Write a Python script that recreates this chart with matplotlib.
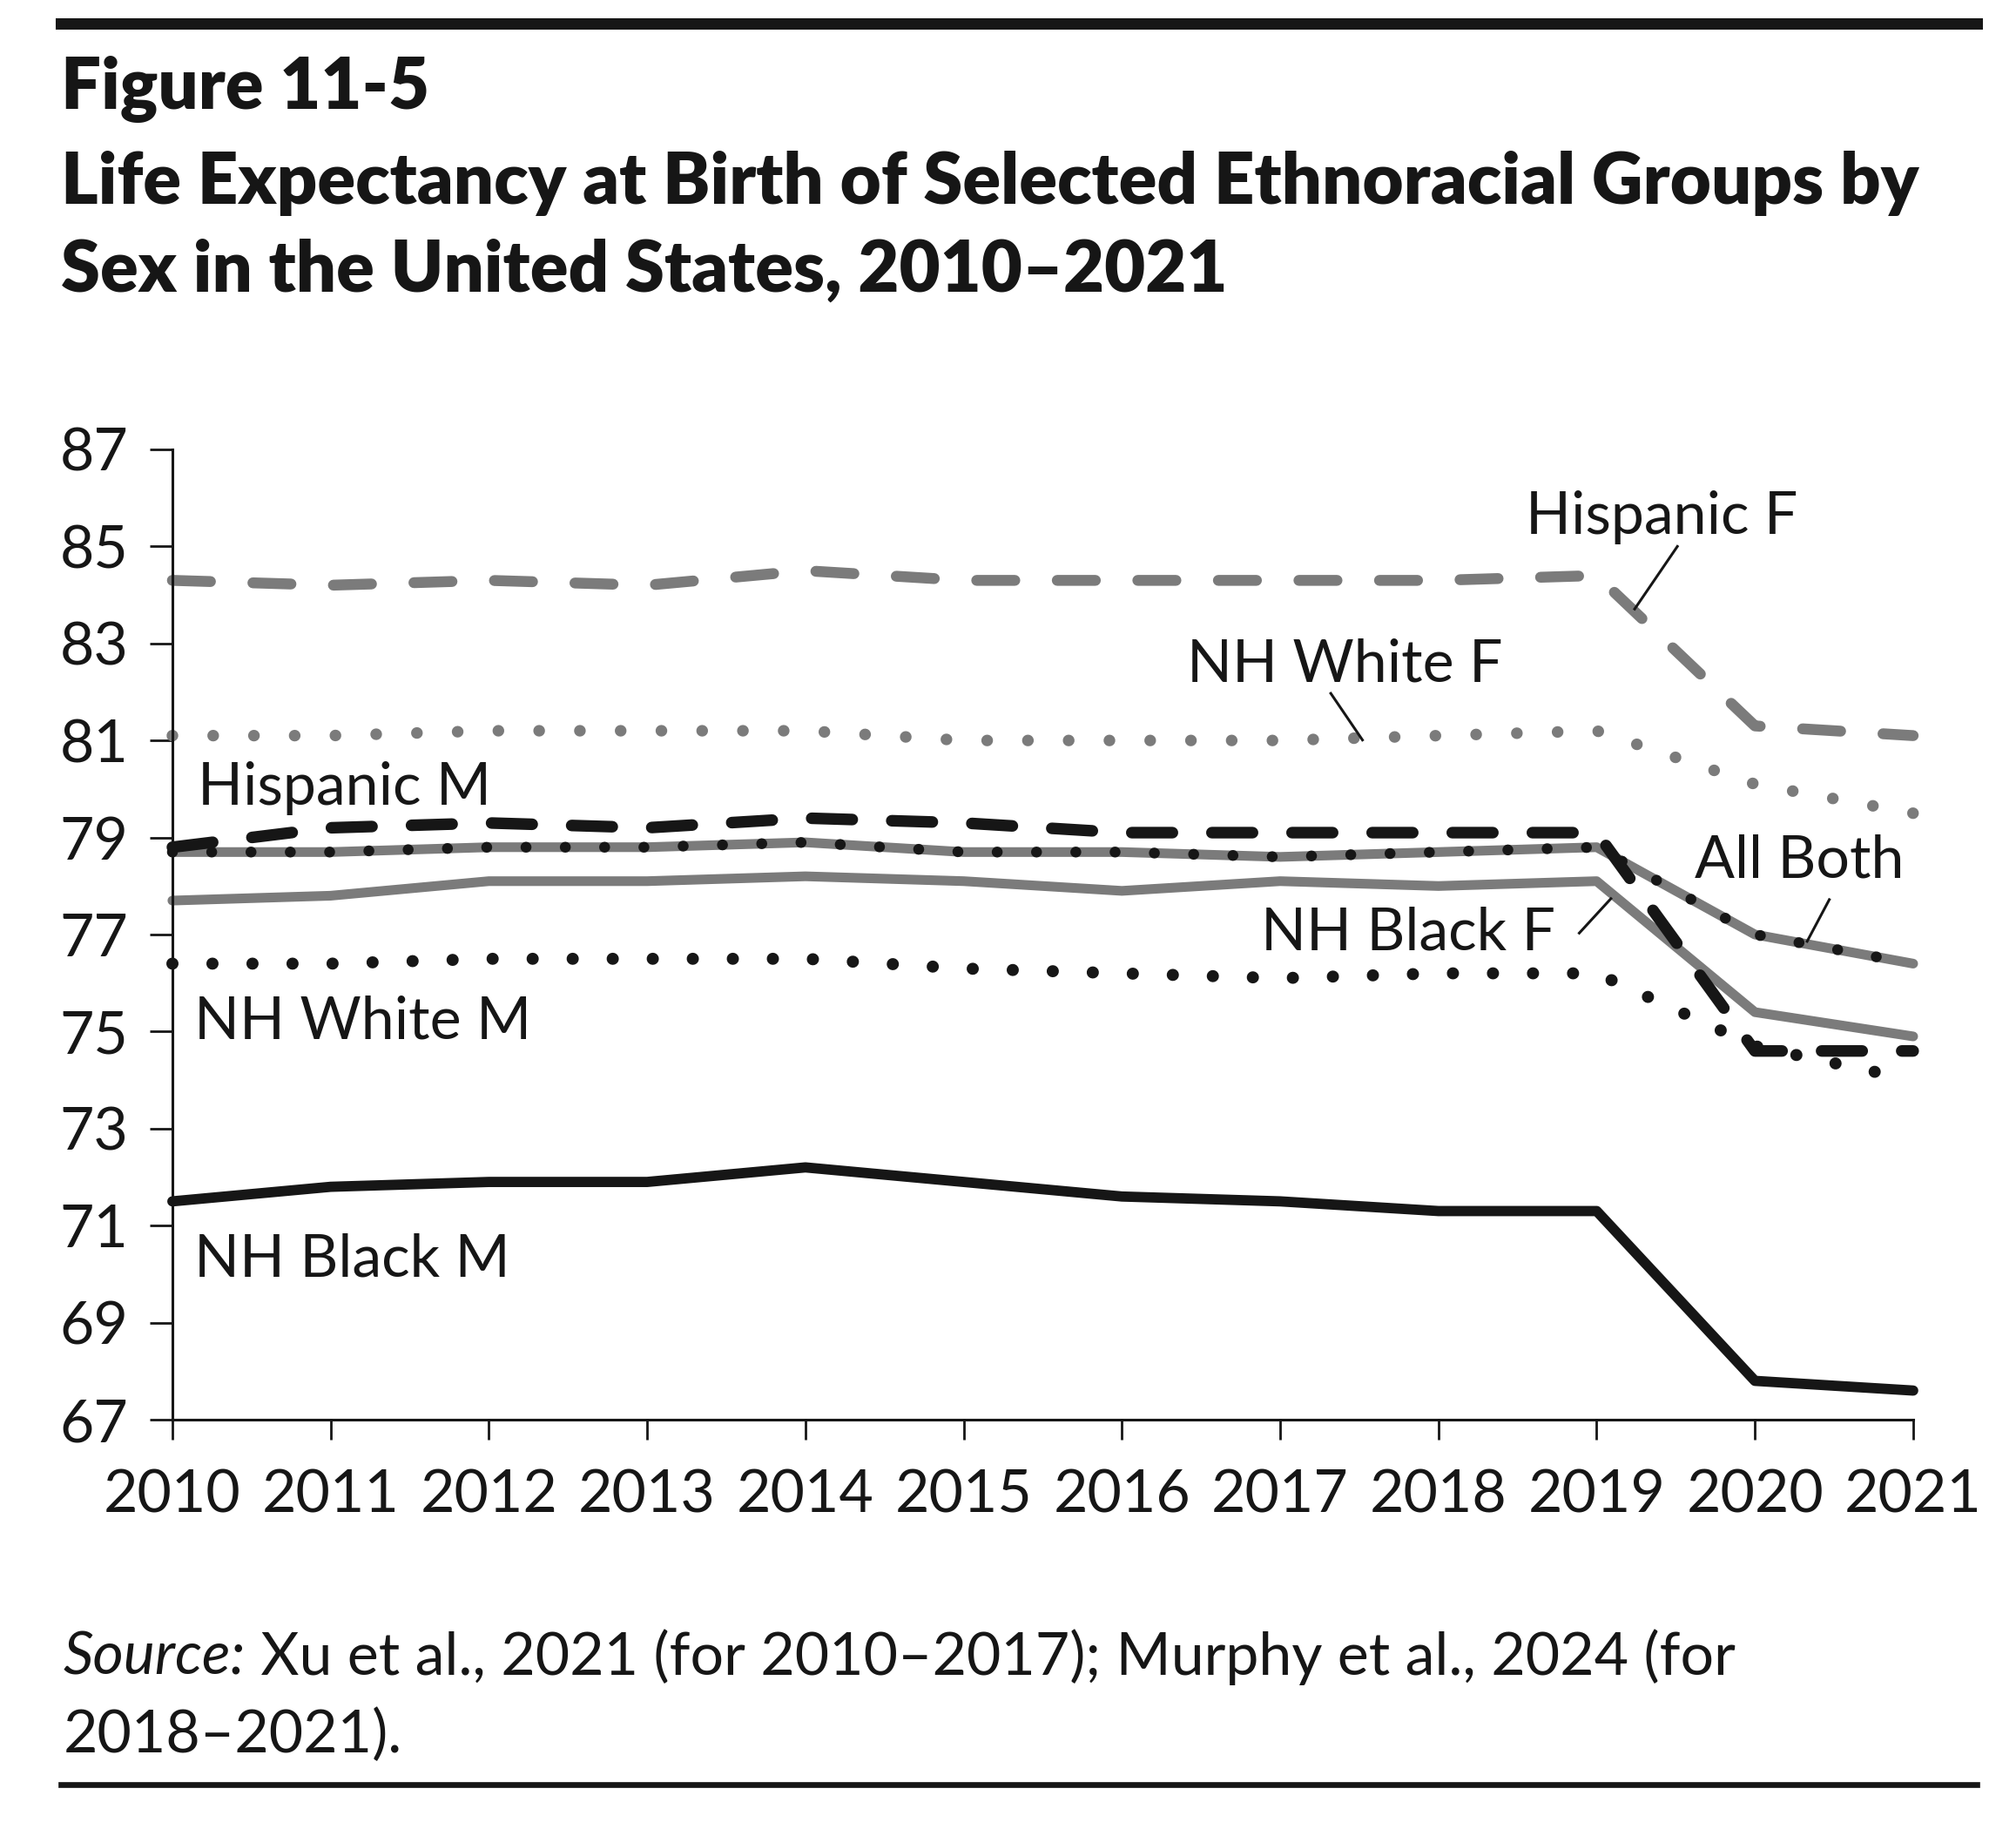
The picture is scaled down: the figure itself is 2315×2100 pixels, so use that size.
import matplotlib
matplotlib.use('Agg')
import matplotlib.pyplot as plt
from matplotlib.lines import Line2D

years = list(range(2010, 2022))
hispanic_f = [84.3, 84.2, 84.3, 84.2, 84.5, 84.3, 84.3, 84.3, 84.3, 84.4, 81.3, 81.1]
nh_white_f = [81.1, 81.1, 81.2, 81.2, 81.2, 81.0, 81.0, 81.0, 81.1, 81.2, 80.1, 79.5]
hispanic_m = [78.8, 79.2, 79.3, 79.2, 79.4, 79.3, 79.1, 79.1, 79.1, 79.1, 74.6, 74.6]
all_both = [78.7, 78.7, 78.8, 78.8, 78.9, 78.7, 78.7, 78.6, 78.7, 78.8, 77.0, 76.4]
nh_black_f = [77.7, 77.8, 78.1, 78.1, 78.2, 78.1, 77.9, 78.1, 78.0, 78.1, 75.4, 74.9]
nh_white_m = [76.4, 76.4, 76.5, 76.5, 76.5, 76.3, 76.2, 76.1, 76.2, 76.2, 74.7, 74.0]
nh_black_m = [71.5, 71.8, 71.9, 71.9, 72.2, 71.9, 71.6, 71.5, 71.3, 71.3, 67.8, 67.6]
y_ticks = [67, 69, 71, 73, 75, 77, 79, 81, 83, 85, 87]

GRAY = '#7b7b7b'
BLACK = '#161616'

plt.rcParams['font.family'] = ['Lato', 'DejaVu Sans']

fig = plt.figure(figsize=(23.15, 21), dpi=100)
ax = fig.add_axes([0.0855, 0.2238, 0.8635, 0.5305])

common = dict(clip_on=False, solid_capstyle='round', dash_capstyle='round')

# lines, back to front
ax.plot(years, nh_black_m, color=BLACK, lw=8.5, **common)
ax.plot(years, nh_black_f, color=GRAY, lw=8, **common)
ax.plot(years, all_both, color=GRAY, lw=8, **common)
ax.plot(years, all_both, color=BLACK, lw=9, dashes=(0.01, 3.6), **common)
ax.plot(years, nh_white_m, color=BLACK, lw=10, dashes=(0.01, 3.3), **common)
ax.plot(years, hispanic_m, color=BLACK, lw=9.6, dashes=(3.5, 3.4), **common)
ax.plot(years, nh_white_f, color=GRAY, lw=9.6, dashes=(0.01, 3.5), **common)
ax.plot(years, hispanic_f, color=GRAY, lw=9, dashes=(3.5, 3.9), **common)

ax.set_xlim(2010, 2021)
ax.set_ylim(67, 87)
ax.set_xticks(years)
ax.set_yticks(y_ticks)
for s in ['top', 'right']:
    ax.spines[s].set_visible(False)
for s in ['left', 'bottom']:
    ax.spines[s].set_linewidth(2.2)
    ax.spines[s].set_color(BLACK)
ax.tick_params(axis='both', direction='out', width=2, color=BLACK,
               labelsize=49, labelcolor=BLACK)
ax.tick_params(axis='y', length=18.5, pad=18)
ax.tick_params(axis='x', length=16.5, pad=24)

# series labels
lbl = dict(fontsize=49, color=BLACK, va='baseline', ha='left')
ax.text(2018.55, 85.26, 'Hispanic F', **lbl)
ax.text(2016.41, 82.21, 'NH White F', **lbl)
ax.text(2010.16, 79.67, 'Hispanic M', **lbl)
ax.text(2019.62, 78.17, 'All Both', **lbl)
ax.text(2016.88, 76.68, 'NH Black F', **lbl)
ax.text(2010.14, 74.85, 'NH White M', **lbl)
ax.text(2010.14, 69.96, 'NH Black M', **lbl)

# leader lines
leaders = [((2019.24, 2019.51), (83.71, 85.0)),
           ((2017.32, 2017.52), (81.97, 81.01)),
           ((2020.33, 2020.47), (76.86, 77.72)),
           ((2018.89, 2019.09), (77.03, 77.74))]
for lx, ly in leaders:
    ax.plot(lx, ly, color=BLACK, lw=2.2, clip_on=False)

# rules and title
fig.add_artist(Line2D([0.0302, 0.9806], [0.987, 0.987], color=BLACK, lw=9.4,
                      transform=fig.transFigure))
fig.add_artist(Line2D([0.0302, 0.9806], [0.0243, 0.0243], color=BLACK, lw=4.8,
                      transform=fig.transFigure))
ttl = dict(fontsize=58.5, fontweight='heavy', color=BLACK, va='baseline', ha='left')
fig.text(0.0302, 0.9405, 'Figure 11-5', **ttl)
fig.text(0.0302, 0.8886, 'Life Expectancy at Birth of Selected Ethnoracial Groups by', **ttl)
fig.text(0.0302, 0.8405, 'Sex in the United States, 2010\u20132021', **ttl)

# source note
src = fig.text(0.0315, 0.0843, 'Source:', fontsize=49, fontstyle='italic',
               color=BLACK, va='baseline', ha='left')
plt.annotate(' Xu et al., 2021 (for 2010\u20132017); Murphy et al., 2024 (for',
             xy=(1, 0), xycoords=src, va='bottom', ha='left',
             fontsize=49, color=BLACK)
fig.text(0.0315, 0.0419, '2018\u20132021).', fontsize=49, color=BLACK,
         va='baseline', ha='left')

fig.savefig('out.png', dpi=100)
plt.close(fig)
